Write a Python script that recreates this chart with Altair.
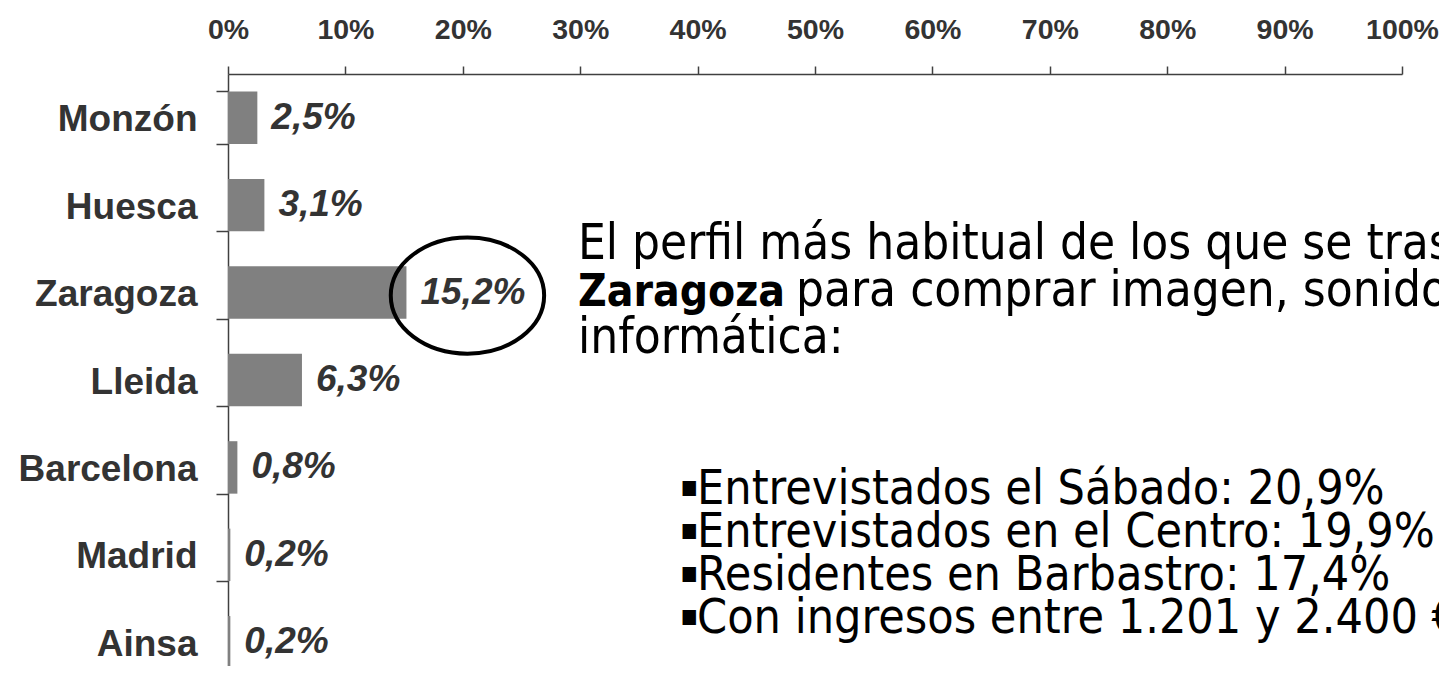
import altair as alt
import pandas as pd

cities = ["Monzón", "Huesca", "Zaragoza", "Lleida", "Barcelona", "Madrid", "Ainsa"]
values = [2.5, 3.1, 15.2, 6.3, 0.8, 0.2, 0.2]
x_ticks = [0, 10, 20, 30, 40, 50, 60, 70, 80, 90, 100]
highlight = "Zaragoza"

intro_line1 = "El perfil más habitual de los que se trasladan a"
intro_bold = "Zaragoza"
intro_line2 = "para comprar imagen, sonido e"
intro_line3 = "informática:"
bullet_char = "▪"
bullets = [
    "Entrevistados el Sábado: 20,9%",
    "Entrevistados en el Centro: 19,9%",
    "Residentes en Barbastro: 17,4%",
    "Con ingresos entre 1.201 y 2.400 €",
]

labels = [f"{v:.1f}".replace(".", ",") + "%" for v in values]
df = pd.DataFrame({"ciudad": cities, "pct": values, "label": labels})

AXIS_COL = "#404040"
LABEL_COL = "#333333"
FONT = "Liberation Sans"
NOTE_FONT = "DejaVu Sans Condensed"

x_enc = alt.X(
    "pct:Q",
    scale=alt.Scale(domain=[0, 100], nice=False, zero=True),
    axis=alt.Axis(
        orient="top", values=x_ticks, labelExpr="datum.value + '%'", title=None,
        grid=False, tickSize=8, tickColor=AXIS_COL, tickWidth=1.5,
        domainColor=AXIS_COL, domainWidth=1.5, labelFlush=False, labelOverlap=False,
        labelFont=FONT, labelFontWeight="bold", labelFontSize=28.5,
        labelColor=LABEL_COL, labelPadding=22,
    ),
)
y_enc = alt.Y(
    "ciudad:N", sort=cities,
    scale=alt.Scale(range=[0, 612], paddingInner=0.4, paddingOuter=0.2),
    axis=alt.Axis(
        title=None, tickBand="extent", tickSize=12, tickColor=AXIS_COL, tickWidth=1.5,
        domainColor=AXIS_COL, domainWidth=1.5, grid=False,
        labelFont=FONT, labelFontWeight="bold", labelFontSize=37,
        labelColor=LABEL_COL, labelPadding=19, labelOffset=2,
    ),
)

bars = alt.Chart(df).mark_bar(color="#808080").encode(x=x_enc, y=y_enc)

vals = alt.Chart(df).mark_text(
    align="left", baseline="middle", dx=14, font=FONT, fontWeight="bold",
    fontStyle="italic", fontSize=37, color=LABEL_COL,
).encode(x="pct:Q", y=alt.Y("ciudad:N", sort=cities), text="label:N")

ellipse = alt.Chart(df).transform_filter(
    alt.datum.ciudad == highlight
).mark_point(
    shape="M -1.32 0 A 1.32 1 0 1 0 1.32 0 A 1.32 1 0 1 0 -1.32 0 Z",
    size=13500, filled=False, stroke="black", strokeWidth=4, opacity=1,
    xOffset=61, yOffset=3,
).encode(x="pct:Q", y=alt.Y("ciudad:N", sort=cities))

one = pd.DataFrame({"k": [0]})


def note(txt, x, y, size, weight="normal"):
    return alt.Chart(one).mark_text(
        align="left", baseline="alphabetic", font=NOTE_FONT, fontSize=size,
        fontWeight=weight, color="black",
    ).encode(x=alt.value(x), y=alt.value(y), text=alt.value(txt))


notes = [
    note(intro_line1, 350, 185, 49),
    note(intro_bold, 350, 232, 44, "bold"),
    note(intro_line2, 568, 232, 49),
    note(intro_line3, 350, 279, 49),
]
for i, b in enumerate(bullets):
    base = 430 + 43 * i
    notes.append(note(bullet_char, 452, base - 8, 30))
    notes.append(note(b, 469, base, 48))

chart = alt.layer(bars, vals, ellipse, *notes).properties(
    width=1174, height=592,
    autosize=alt.AutoSizeParams(type="none"),
    padding={"left": 220, "top": 66, "right": 37, "bottom": 0},
).configure_view(stroke=None)

chart.save("out.html", embed_options={"renderer": "svg", "actions": False})
